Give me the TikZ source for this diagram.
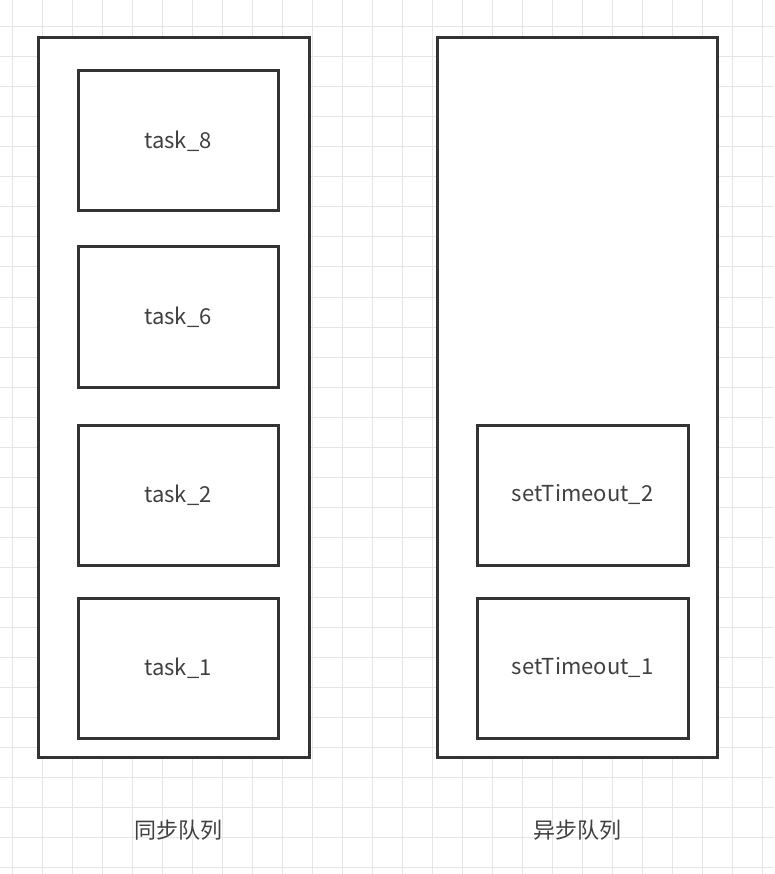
\documentclass[tikz,border=0pt]{standalone}
\usepackage{fontspec}
\setmainfont{Noto Sans CJK SC}
\begin{document}
\begin{tikzpicture}[x=1pt,y=-1pt,
  box/.style={draw=black!80,line width=3pt,fill=white,inner sep=0pt},
  lbl/.style={text=black!75,font=\fontsize{22}{26}\selectfont}]
\useasboundingbox (0,0) rectangle (774,874);
\fill[white] (0,0) rectangle (774,874);
\foreach \i in {0,...,25} \draw[black!10,line width=1pt] (12+30*\i,0) -- (12+30*\i,874);
\foreach \i in {0,...,28} \draw[black!10,line width=1pt] (0,27+30*\i) -- (774,27+30*\i);
\node[box,minimum width=271pt,minimum height=719pt] (sync) at (173.5,397.5) {};
\node[box,minimum width=280pt,minimum height=719pt] (async) at (577,397.5) {};
\foreach \n/\t/\y in {t8/task\_8/141,t6/task\_6/317,t2/task\_2/495,t1/task\_1/668}
  \node[box,lbl,minimum width=200pt,minimum height=140pt] (\n) at (178,\y) {\t};
\node[box,lbl,minimum width=211pt,minimum height=140pt] (s2) at (582.5,495) {setTimeout\_2};
\node[box,lbl,minimum width=211pt,minimum height=140pt] (s1) at (582.5,668) {setTimeout\_1};
\node[lbl] (l1) at (178,830) {同步队列};
\node[lbl] (l2) at (577,830) {异步队列};
\end{tikzpicture}
\end{document}
